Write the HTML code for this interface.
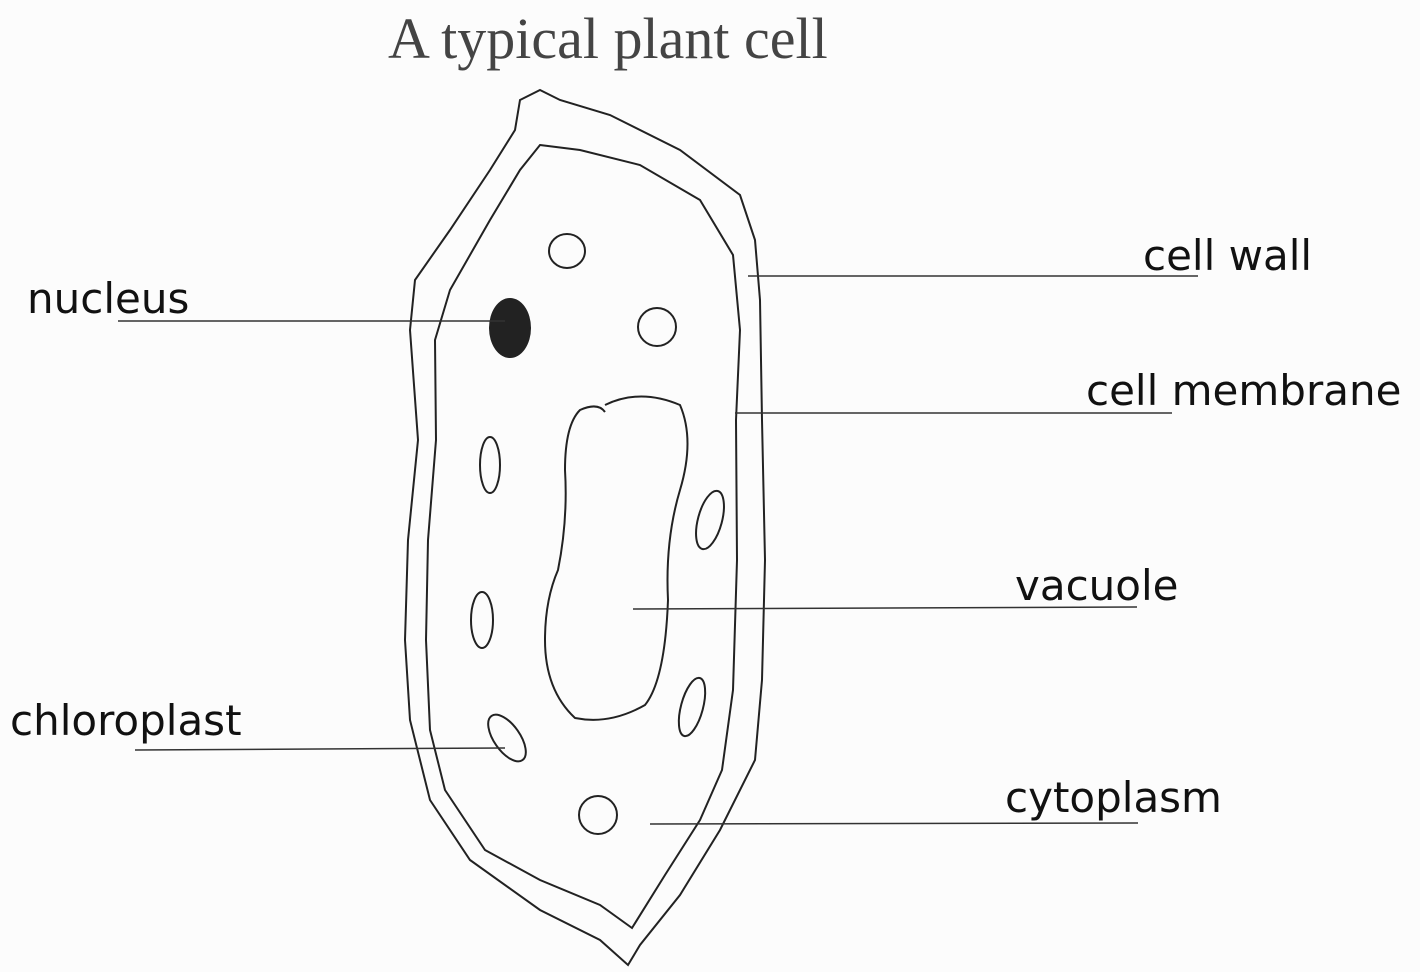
<!DOCTYPE html>
<html><head><meta charset="utf-8"><style>
html,body{margin:0;padding:0;background:#fcfcfc;}
svg{display:block}
.l{font-family:"DejaVu Sans","Liberation Sans",sans-serif;font-size:42px;fill:#111;}
</style></head><body>
<svg width="1420" height="972" viewBox="0 0 1420 972" xmlns="http://www.w3.org/2000/svg">
<rect width="1420" height="972" fill="#fcfcfc"/>
<text x="388" y="58" font-family="Liberation Serif,serif" font-size="58" fill="#444">A typical plant cell</text>
<g fill="none" stroke="#222" stroke-width="2">
<path d="M540,90 L560,100 L610,115 L680,150 L740,195 L755,240 L760,300 L762,420 L765,560 L762,680 L755,760 L720,830 L680,895 L640,945 L628,965 L600,940 L540,910 L470,860 L430,800 L410,720 L405,640 L408,540 L418,440 L410,330 L415,280 L450,230 L490,170 L515,130 L520,100 Z"/>
<path d="M540,145 L580,150 L640,165 L700,200 L733,255 L740,330 L736,420 L737,560 L733,690 L722,770 L700,820 L665,875 L632,928 L600,905 L540,880 L485,850 L445,790 L430,730 L426,640 L428,540 L436,440 L435,340 L450,290 L490,220 L520,170 Z"/>
<path d="M605,405 Q640,388 680,405 Q695,440 680,490 Q665,540 668,600 Q665,680 645,705 Q610,725 575,718 Q545,690 545,640 Q545,600 558,570 Q568,520 565,470 Q565,425 580,410 Q598,402 605,412"/>
<ellipse cx="567" cy="251" rx="18" ry="17"/>
<circle cx="657" cy="327" r="19"/>
<circle cx="598" cy="815" r="19"/>
<ellipse cx="490" cy="465" rx="10" ry="28"/>
<ellipse cx="482" cy="620" rx="11" ry="28"/>
<ellipse cx="710" cy="520" rx="12" ry="30" transform="rotate(15 710 520)"/>
<ellipse cx="692" cy="707" rx="11" ry="30" transform="rotate(15 692 707)"/>
<ellipse cx="507" cy="738" rx="13" ry="27" transform="rotate(-35 507 738)"/>
</g>
<ellipse cx="510" cy="328" rx="21" ry="30" fill="#222"/>
<g stroke="#333" stroke-width="1.5">
<line x1="118" y1="321" x2="505" y2="321"/>
<line x1="748" y1="276" x2="1198" y2="276"/>
<line x1="735" y1="413" x2="1172" y2="413"/>
<line x1="633" y1="609" x2="1137" y2="607"/>
<line x1="135" y1="750" x2="505" y2="748"/>
<line x1="650" y1="824" x2="1138" y2="823"/>
</g>
<text class="l" x="27" y="313">nucleus</text>
<text class="l" x="1143" y="270">cell wall</text>
<text class="l" x="1086" y="405">cell membrane</text>
<text class="l" x="1015" y="600">vacuole</text>
<text class="l" x="10" y="735">chloroplast</text>
<text class="l" x="1005" y="812">cytoplasm</text>
</svg>
</body></html>
